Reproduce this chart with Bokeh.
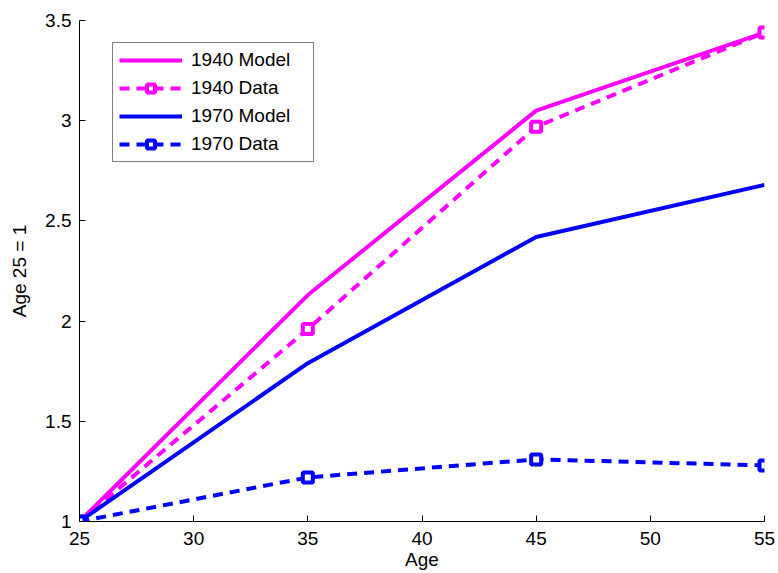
from bokeh.plotting import figure
from bokeh.models import Legend, LegendItem, FixedTicker
from bokeh.embed import file_html
from bokeh.resources import INLINE

# Ages and earnings profiles normalised to age 25 = 1
ages = [25, 35, 45, 55]
model_1940 = [1.0, 2.13, 3.05, 3.44]
data_1940 = [1.0, 1.96, 2.97, 3.44]
model_1970 = [1.0, 1.79, 2.42, 2.68]
data_1970 = [1.0, 1.22, 1.31, 1.28]

x_ticks = [25, 30, 35, 40, 45, 50, 55]
y_ticks = [1, 1.5, 2, 2.5, 3, 3.5]

MAGENTA = "#ff00ff"
BLUE = "#0000ff"
FONT = "Liberation Sans"
FS = "19px"

p = figure(frame_width=685, frame_height=501, output_backend="svg",
           toolbar_location=None,
           x_range=(25, 55), y_range=(1, 3.5),
           min_border_left=79, min_border_right=14,
           min_border_top=20, min_border_bottom=52)
p.outline_line_color = None
p.xgrid.visible = False
p.ygrid.visible = False

for ax in (p.xaxis[0], p.yaxis[0]):
    ax.major_tick_in = 6
    ax.major_tick_out = 0
    ax.minor_tick_in = 0
    ax.minor_tick_out = 0
    ax.axis_line_color = "black"
    ax.major_tick_line_color = "black"
    ax.major_label_text_font = FONT
    ax.major_label_text_font_size = FS
    ax.major_label_text_color = "black"
    ax.axis_label_text_font = FONT
    ax.axis_label_text_font_size = FS
    ax.axis_label_text_font_style = "normal"
    ax.axis_label_text_color = "black"

p.xaxis.major_label_standoff = 10
p.xaxis.axis_label_standoff = 1
p.yaxis.major_label_standoff = 8
p.yaxis.axis_label_standoff = 12

p.xaxis.ticker = FixedTicker(ticks=x_ticks)
p.yaxis.ticker = FixedTicker(ticks=y_ticks)
p.xaxis.axis_label = "Age"
p.yaxis.axis_label = "Age 25 = 1"
p.yaxis.major_label_overrides = {1: "1", 2: "2", 3: "3"}
p.xaxis.major_label_overrides = {v: str(v) for v in x_ticks}

DASH = "10 7"

l1 = p.line(ages, model_1940, line_color=MAGENTA, line_width=4)
l2 = p.line(ages, data_1940, line_color=MAGENTA, line_width=4, line_dash=DASH)
s2 = p.scatter(ages, data_1940, marker="square", size=10, line_color=MAGENTA,
               fill_color="white", line_width=4)
l3 = p.line(ages, model_1970, line_color=BLUE, line_width=4)
l4 = p.line(ages, data_1970, line_color=BLUE, line_width=4, line_dash=DASH)
s4 = p.scatter(ages, data_1970, marker="square", size=10, line_color=BLUE,
               fill_color="white", line_width=4)

legend = Legend(items=[
    LegendItem(label="1940 Model", renderers=[l1]),
    LegendItem(label="1940 Data", renderers=[l2, s2]),
    LegendItem(label="1970 Model", renderers=[l3]),
    LegendItem(label="1970 Data", renderers=[l4, s4]),
], location=(33, 359))
legend.border_line_color = "black"
legend.border_line_width = 1
legend.background_fill_color = "white"
legend.background_fill_alpha = 1
legend.label_text_font = FONT
legend.label_text_font_size = FS
legend.label_text_color = "black"
legend.glyph_width = 63
legend.glyph_height = 20
legend.label_height = 20
legend.label_width = 116
legend.label_standoff = 9
legend.spacing = 6
legend.padding = 6
legend.margin = 0
p.add_layout(legend, "center")

open("out.html", "w").write(file_html(p, INLINE))
